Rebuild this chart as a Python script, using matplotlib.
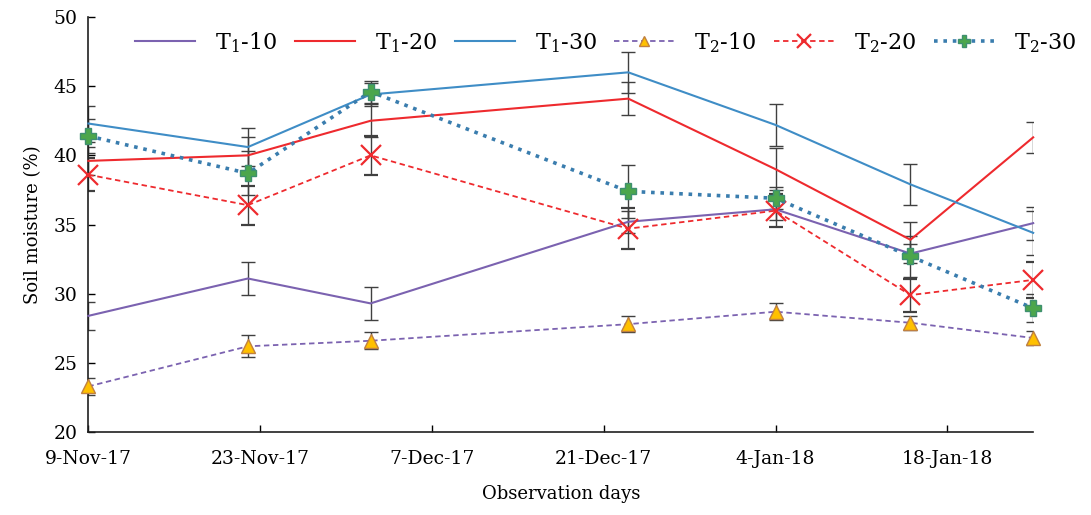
import numpy as np
import pandas as pd
import matplotlib
matplotlib.use('Agg')
import matplotlib.pyplot as plt

plt.rcParams['font.family'] = ['DejaVu Serif']
plt.rcParams['mathtext.fontset'] = 'dejavuserif'

# Observation dates
dates = pd.to_datetime(['2017-11-09', '2017-11-22', '2017-12-02', '2017-12-23',
                        '2018-01-04', '2018-01-15', '2018-01-25'])
tick_dates = pd.to_datetime(['2017-11-09', '2017-11-23', '2017-12-07',
                             '2017-12-21', '2018-01-04', '2018-01-18'])
tick_labels = ['9-Nov-17', '23-Nov-17', '7-Dec-17', '21-Dec-17', '4-Jan-18', '18-Jan-18']

# Soil moisture (%) values
t1_10 = [28.4, 31.1, 29.3, 35.2, 36.1, 32.9, 35.1]
t1_20 = [39.6, 40.0, 42.5, 44.1, 39.0, 33.9, 41.3]
t1_30 = [42.3, 40.6, 44.4, 46.0, 42.2, 37.9, 34.4]
t2_10 = [23.3, 26.2, 26.6, 27.8, 28.7, 27.9, 26.8]
t2_20 = [38.6, 36.4, 40.0, 34.7, 36.0, 29.9, 31.0]
t2_30 = [41.4, 38.7, 44.6, 37.4, 36.9, 32.7, 28.95]

# Error bar half-lengths
e1_10 = [1.0, 1.2, 1.2, 0.8, 0.8, 0.7, 1.2]
e1_20 = [1.0, 1.3, 1.2, 1.2, 1.5, 1.3, 1.1]
e1_30 = [1.3, 1.4, 0.8, 1.5, 1.5, 1.5, 1.6]
e2_10 = [0.6, 0.8, 0.6, 0.6, 0.6, 0.5, 0.5]
e2_20 = [1.2, 1.4, 1.4, 1.5, 1.2, 1.2, 1.3]
e2_30 = [1.2, 1.6, 0.8, 1.9, 0.8, 1.5, 1.0]

fig, ax = plt.subplots(figsize=(10.91, 5.15), dpi=100)
fig.subplots_adjust(left=0.081, right=0.947, top=0.967, bottom=0.161)

err_kw = dict(ecolor='#404040', elinewidth=1.0, capsize=5, capthick=1.0)

conts = []
conts.append(ax.errorbar(dates, t1_10, yerr=e1_10, color='#7B62B0', lw=1.5, **err_kw))
conts.append(ax.errorbar(dates, t1_20, yerr=e1_20, color='#EE2A2E', lw=1.5, **err_kw))
conts.append(ax.errorbar(dates, t1_30, yerr=e1_30, color='#3F8DC6', lw=1.5, **err_kw))
conts.append(ax.errorbar(dates, t2_10, yerr=e2_10, color='#7B62B0', lw=1.3, ls=(0, (3, 2)),
                         marker='^', ms=10, mfc='#FFC000', mec='#C08040', **err_kw))
conts.append(ax.errorbar(dates, t2_20, yerr=e2_20, color='#EE2A2E', lw=1.3, ls=(0, (3, 2)),
                         marker='x', ms=14, mew=1.6, mec='#EE2A2E', **err_kw))
conts.append(ax.errorbar(dates, t2_30, yerr=e2_30, color='#3A7DAE', lw=2.6, ls=(0, (1, 1.6)),
                         marker='P', ms=11, mfc='#4CA64C', mec='#3E9070', **err_kw))
for c in conts:
    c[0].set_clip_on(False)
    c[0].set_zorder(3)

labels = ['T$_1$-10', 'T$_1$-20', 'T$_1$-30', 'T$_2$-10', 'T$_2$-20', 'T$_2$-30']

ax.set_xlim(dates[0], dates[-1])
ax.set_ylim(20, 50)
ax.set_yticks(np.arange(20, 51, 5))
ax.set_xticks(tick_dates)
ax.set_xticklabels(tick_labels)
ax.tick_params(axis='both', direction='in', labelsize=13.5, length=5, width=1)
ax.tick_params(axis='x', pad=13)
ax.tick_params(axis='y', pad=8)
for s in ['top', 'right']:
    ax.spines[s].set_visible(False)
for s in ['left', 'bottom']:
    ax.spines[s].set_linewidth(1.2)
    ax.spines[s].set_color('#202020')

ax.set_xlabel('Observation days', fontsize=13, labelpad=12)
ax.set_ylabel('Soil moisture (%)', fontsize=13, labelpad=8)

handles = [c[0] for c in conts]
leg = fig.legend(handles, labels, loc='center', bbox_to_anchor=(0.555, 0.918), ncol=6,
                 frameon=False, fontsize=16, handlelength=2.7, handletextpad=0.9,
                 columnspacing=0.8, markerscale=0.75)

plt.savefig('out.png', dpi=100)
